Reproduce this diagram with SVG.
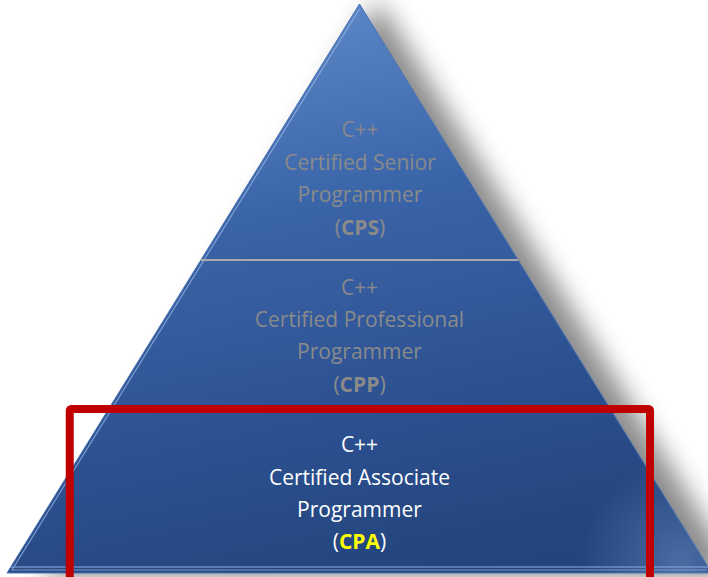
<svg xmlns="http://www.w3.org/2000/svg" width="708" height="577" viewBox="0 0 708 577">
  <defs>
    <linearGradient id="fill" gradientUnits="userSpaceOnUse" x1="300" y1="0" x2="420" y2="577">
      <stop offset="0" stop-color="#5c88c9"/>
      <stop offset="0.35" stop-color="#3a64a8"/>
      <stop offset="0.7" stop-color="#2c5191"/>
      <stop offset="1" stop-color="#23447c"/>
    </linearGradient>
    <radialGradient id="sheen" gradientUnits="userSpaceOnUse" cx="680" cy="560" r="100">
      <stop offset="0" stop-color="#7a9cd0" stop-opacity="0.45"/>
      <stop offset="1" stop-color="#7a9cd0" stop-opacity="0"/>
    </radialGradient>
    <filter id="shadow" x="-20%" y="-20%" width="140%" height="140%">
      <feGaussianBlur stdDeviation="13"/>
    </filter>
    <style>
      .t { font-family: "Open Sans", "Liberation Sans", sans-serif; font-size: 21px; text-anchor: middle; }
      .dim { fill: #8a8a8a; }
      .lit { fill: #ffffff; }
      .b { font-weight: bold; }
      .sep { stroke: #a9a9a9; stroke-width: 2; }
    </style>
  </defs>

  <g id="shadow-layer">
    <path d="M378,0 L40,577 L740,577 Z" fill="#000" opacity="0.45" filter="url(#shadow)"/>
  </g>

  <g id="pyramid">
    <path d="M359.5,4 L7,573 L712,573 Z" fill="url(#fill)" stroke="#4a74b4" stroke-width="1"/>
    <path d="M359.5,4 L7,573 L712,573 Z" fill="url(#sheen)"/>
    <path d="M359.5,9 L12,570 L707,570" fill="none" stroke="#9fbbe6" stroke-width="1.2" stroke-opacity="0.7"/>
    <line x1="10" y1="567" x2="708" y2="567" stroke="#7fa0d6" stroke-width="2" stroke-opacity="0.6"/>
  </g>

  <g id="connectors">
    <line class="sep" x1="201" y1="260" x2="518" y2="260"/>
  </g>

  <g id="tier-cps">
    <text class="t dim" x="360" y="137">C++</text>
    <text class="t dim" x="360" y="170">Certified Senior</text>
    <text class="t dim" x="360" y="202">Programmer</text>
    <text class="t dim" x="360" y="235">(<tspan class="b">CPS</tspan>)</text>
  </g>

  <g id="tier-cpp">
    <text class="t dim" x="359.5" y="295">C++</text>
    <text class="t dim" x="359.5" y="327">Certified Professional</text>
    <text class="t dim" x="359.5" y="359">Programmer</text>
    <text class="t dim" x="359.5" y="392">(<tspan class="b">CPP</tspan>)</text>
  </g>

  <g id="tier-cpa">
    <text class="t lit" x="359.5" y="452">C++</text>
    <text class="t lit" x="359.5" y="485">Certified Associate</text>
    <text class="t lit" x="359.5" y="517">Programmer</text>
    <text class="t lit" x="359.5" y="549">(<tspan class="b" fill="#ffff00">CPA</tspan>)</text>
  </g>

  <g id="highlight">
    <rect x="69.75" y="409" width="580.25" height="190" rx="1.5" fill="none" stroke="#c00000" stroke-width="8"/>
  </g>
</svg>
